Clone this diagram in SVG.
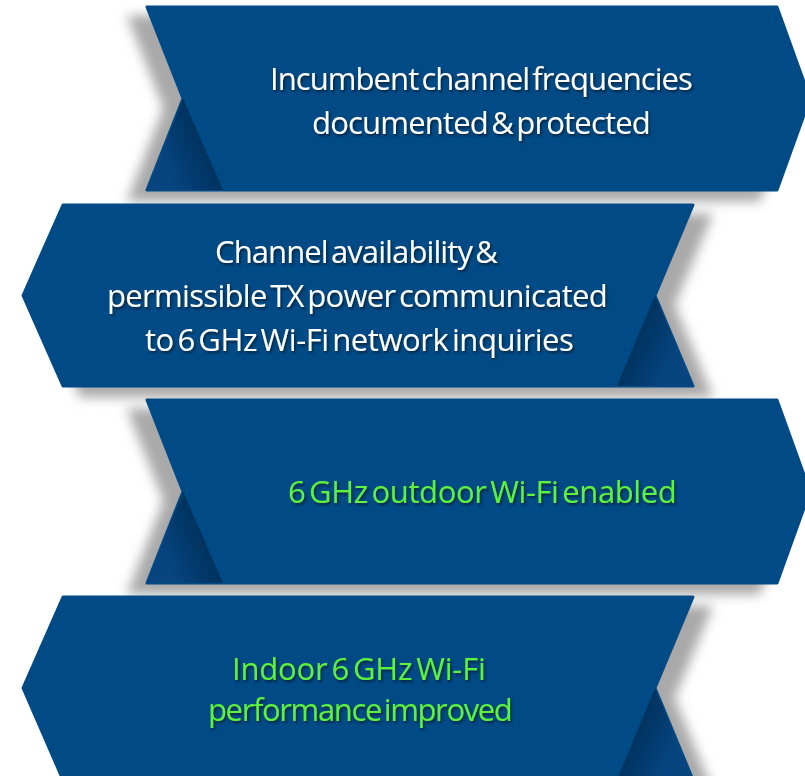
<svg xmlns="http://www.w3.org/2000/svg" width="805" height="776" viewBox="0 0 805 776">
<defs>
<style>
.shape{fill:#004a86;stroke:#004a86;stroke-width:3;stroke-linejoin:round}
.sh{fill:#a9a9a9;stroke:#a9a9a9;stroke-width:3;stroke-linejoin:round;filter:url(#blur)}
.t{font-family:"Open Sans","Liberation Sans",sans-serif;font-size:31px;letter-spacing:-0.8px;word-spacing:-4px;filter:url(#ts)}
.w{fill:#ffffff}
.g{fill:#5df23c}
</style>
<filter id="blur" x="-20%" y="-30%" width="140%" height="160%"><feGaussianBlur stdDeviation="6"/></filter>
<filter id="ts" x="-5%" y="-30%" width="110%" height="160%"><feDropShadow dx="1.5" dy="2" stdDeviation="1.2" flood-color="#001a33" flood-opacity="0.85"/></filter>
<linearGradient id="fr1" gradientUnits="userSpaceOnUse" x1="166" y1="167" x2="205" y2="150"><stop offset="0" stop-color="#074480"/><stop offset="1" stop-color="#00335f"/></linearGradient>
<linearGradient id="fr3" gradientUnits="userSpaceOnUse" x1="166" y1="560" x2="205" y2="543"><stop offset="0" stop-color="#074480"/><stop offset="1" stop-color="#00335f"/></linearGradient>
<linearGradient id="fl2" gradientUnits="userSpaceOnUse" x1="674" y1="357" x2="635" y2="340"><stop offset="0" stop-color="#074480"/><stop offset="1" stop-color="#00335f"/></linearGradient>
<linearGradient id="fl4" gradientUnits="userSpaceOnUse" x1="674" y1="750" x2="635" y2="733"><stop offset="0" stop-color="#074480"/><stop offset="1" stop-color="#00335f"/></linearGradient>
</defs>
<rect width="805" height="776" fill="#ffffff"/>
<g id="shadows">
<polygon class="sh" points="129,17 759,17 792,108 759,200 129,200 165,108"/>
<polygon class="sh" points="81,215 711,215 673,305 711,396 81,396 41,305"/>
<polygon class="sh" points="129,410 759,410 792,501 759,593 129,593 165,501"/>
<polygon class="sh" points="81,607 711,607 673,698 711,790 81,790 41,698"/>
</g>
<g id="node1">
<polygon class="shape" points="147,7 777,7 810,98.5 777,190 147,190 183,98.5"/>
<polygon points="183,98.5 147,190 223,190" fill="url(#fr1)"/>
<text class="t w" x="270" y="90" textLength="422">Incumbent channel frequencies</text>
<text class="t w" x="312" y="134" textLength="338">documented &amp; protected</text>
</g>
<g id="node2">
<polygon class="shape" points="63,205 693,205 655,295.5 693,386 63,386 23,295.5"/>
<polygon points="655,295.5 693,386 617,386" fill="url(#fl2)"/>
<text class="t w" x="215" y="263" textLength="282">Channel availability &amp;</text>
<text class="t w" x="107" y="307" textLength="500">permissible TX power communicated</text>
<text class="t w" x="145" y="351" textLength="428">to 6 GHz Wi-Fi network inquiries</text>
</g>
<g id="node3">
<polygon class="shape" points="147,400 777,400 810,491.5 777,583 147,583 183,491.5"/>
<polygon points="183,491.5 147,583 223,583" fill="url(#fr3)"/>
<text class="t g" x="288" y="503" textLength="388">6 GHz outdoor Wi-Fi enabled</text>
</g>
<g id="node4">
<polygon class="shape" points="63,597 693,597 655,688 693,780 63,780 23,688"/>
<polygon points="655,688 693,780 617,780" fill="url(#fl4)"/>
<text class="t g" x="232" y="680" textLength="253">Indoor 6 GHz Wi-Fi</text>
<text class="t g" x="208" y="721" textLength="304">performance improved</text>
</g>
<g id="connectors"></g>
</svg>
